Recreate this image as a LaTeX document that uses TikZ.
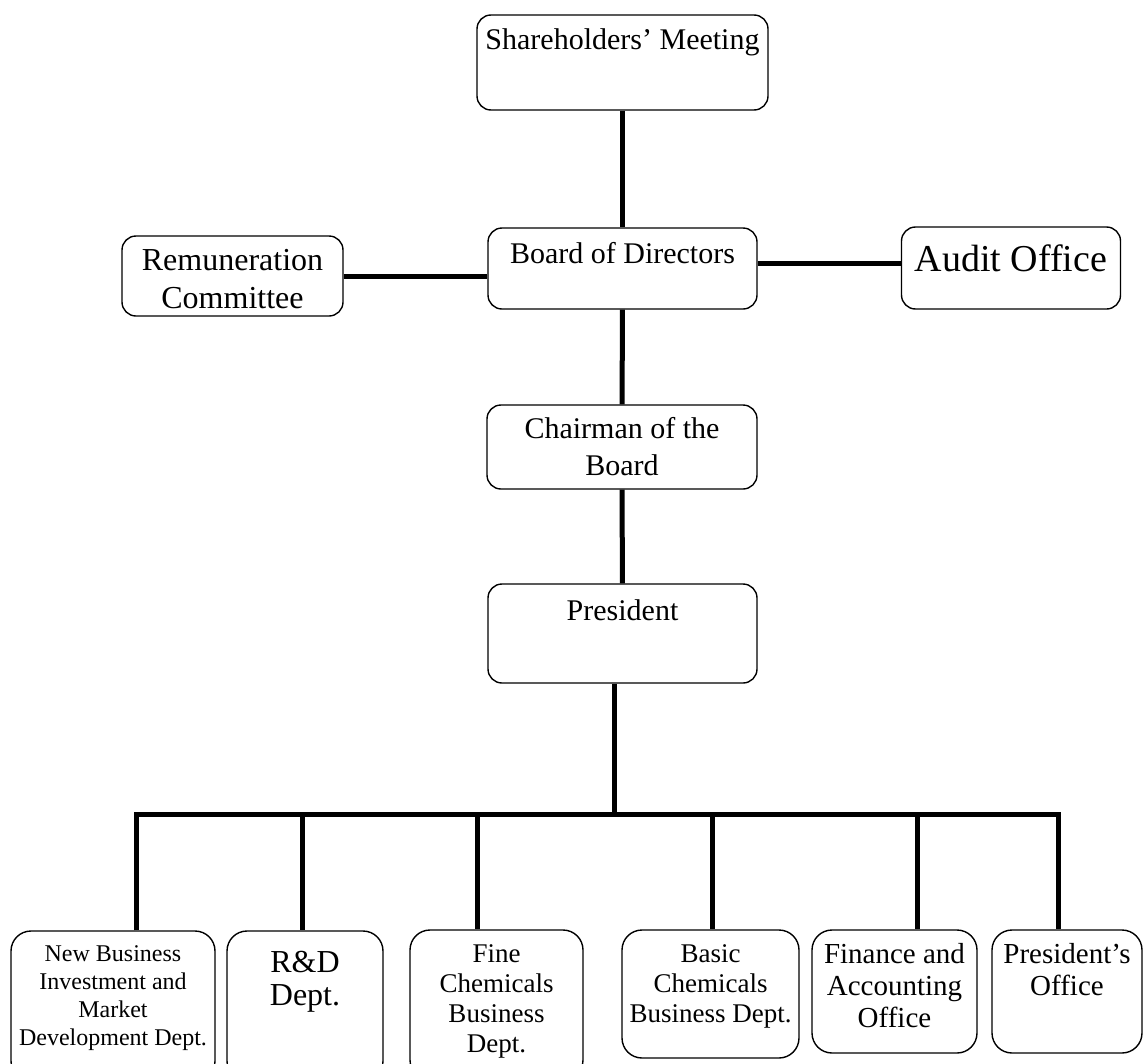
\documentclass[tikz,border=0pt]{standalone}
\usepackage{fontspec}
\setmainfont{Liberation Serif}
\usetikzlibrary{positioning}

\begin{document}
\begin{tikzpicture}[x = 1pt, y = -1pt]
\tikzstyle{BoxStyle}=[
shape = rectangle,
rounded corners = 14pt,
line width = 1.4pt,
inner sep = 0pt,
draw]
\tikzstyle{UnitStyle}=[BoxStyle, rounded corners = 20pt]
\tikzstyle{LabelStyle}=[
inner sep = 0pt,
align = center]
\tikzstyle{LinkStyle}=[line width = 5pt]
\useasboundingbox (0,0) rectangle (1143,1063);
\node[BoxStyle, minimum width = 291pt, minimum height = 95pt] (share) at (622.5,62.5) {};
\node[BoxStyle, minimum width = 221pt, minimum height = 80pt] (remun) at (232.5,276) {};
\node[BoxStyle, minimum width = 269pt, minimum height = 81pt] (board) at (622.5,268.5) {};
\node[BoxStyle, minimum width = 219pt, minimum height = 82pt] (audit) at (1011,268) {};
\node[BoxStyle, minimum width = 270pt, minimum height = 84pt] (chair) at (622,447) {};
\node[BoxStyle, minimum width = 269pt, minimum height = 99pt] (pres) at (622.5,633.5) {};
\node[UnitStyle, minimum width = 204pt, minimum height = 150pt] (nb) at (113,1006) {};
\node[UnitStyle, minimum width = 156pt, minimum height = 150pt] (rd) at (305,1006) {};
\node[UnitStyle, minimum width = 173pt, minimum height = 150pt] (fc) at (496.5,1005) {};
\node[UnitStyle, minimum width = 177pt, minimum height = 128pt] (bc) at (710.5,994) {};
\node[UnitStyle, minimum width = 165pt, minimum height = 123pt] (fa) at (894.5,991.5) {};
\node[UnitStyle, minimum width = 150pt, minimum height = 123pt] (po) at (1067,991.5) {};
\node[LabelStyle, below = 14pt of share.north, font = \fontsize{30}{37}\selectfont] (shareText) {Shareholders' Meeting};
\node[LabelStyle, below = 14pt of remun.north, font = \fontsize{32}{38}\selectfont] (remunText) {Remuneration\\Committee};
\node[LabelStyle, below = 15pt of board.north, font = \fontsize{30}{37}\selectfont] (boardText) {Board of Directors};
\node[LabelStyle, below = 18pt of audit.north, font = \fontsize{38}{44}\selectfont] (auditText) {Audit Office};
\node[LabelStyle, below = 13pt of chair.north, font = \fontsize{30}{37}\selectfont] (chairText) {Chairman of the\\Board};
\node[LabelStyle, below = 16pt of pres.north, font = \fontsize{30}{37}\selectfont] (presText) {President};
\node[LabelStyle, below = 15pt of nb.north, font = \fontsize{24}{28}\selectfont] (nbText) {New Business\\Investment and\\Market\\Development Dept.};
\node[LabelStyle, below = 21pt of rd.north, font = \fontsize{32}{33}\selectfont] (rdText) {R\&D\\Dept.};
\node[LabelStyle, below = 15pt of fc.north, font = \fontsize{27}{30}\selectfont] (fcText) {Fine\\Chemicals\\Business\\Dept.};
\node[LabelStyle, below = 15pt of bc.north, font = \fontsize{27}{30}\selectfont] (bcText) {Basic\\Chemicals\\Business Dept.};
\node[LabelStyle, below = 14pt of fa.north, font = \fontsize{29}{32}\selectfont] (faText) {Finance and\\Accounting\\Office};
\node[LabelStyle, below = 14pt of po.north, font = \fontsize{29}{32}\selectfont] (poText) {President's\\Office};
\draw[LinkStyle] (share) -- (board);
\draw[LinkStyle] (board) -- (chair);
\draw[LinkStyle] (chair) -- (pres);
\draw[LinkStyle] (remun.east) -- (remun.east -| board.west);
\draw[LinkStyle] ([yshift = 5pt]audit.west -| board.east) -- ([yshift = 5pt]audit.west);
\coordinate (top) at (614,814);
\foreach \n/\x in {nb/136, rd/302, fc/477, bc/712, fa/917, po/1058}
  \coordinate (j\n) at (\x,814);
\draw[LinkStyle] (pres.south -| top) -- (top);
\draw[LinkStyle] (jnb |- nb.north) -- (jnb) -- (jpo) -- (jpo |- po.north);
\foreach \n in {rd, fc, bc, fa}
  \draw[LinkStyle] (j\n) -- (j\n |- \n.north);
\end{tikzpicture}
\end{document}
